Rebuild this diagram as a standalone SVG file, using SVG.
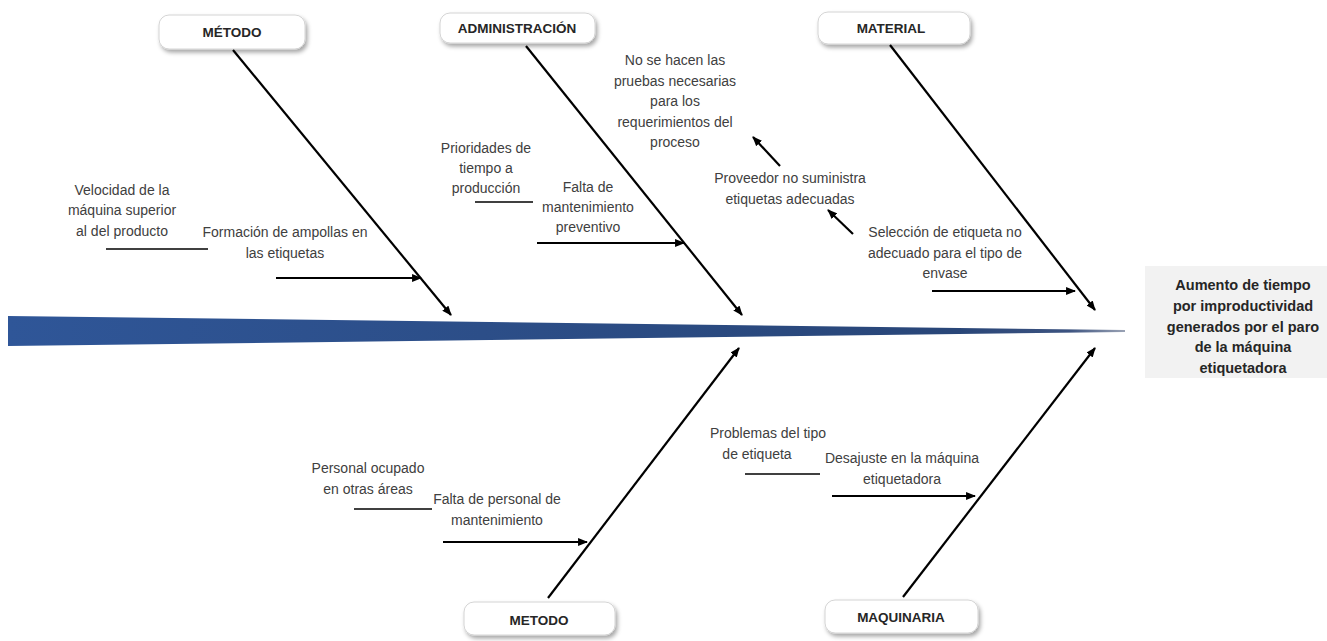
<svg xmlns="http://www.w3.org/2000/svg" width="1327" height="641" viewBox="0 0 1327 641">
  <style>
    .lbl { font-family: "Liberation Sans", Arial, sans-serif; font-size: 14px; fill: #404040; text-anchor: middle; }
    .cat { font-family: "Liberation Sans", Arial, sans-serif; font-size: 13.5px; font-weight: bold; fill: #262626; text-anchor: middle; }
    .eff { font-family: "Liberation Sans", Arial, sans-serif; font-size: 14.5px; font-weight: bold; fill: #262626; text-anchor: middle; }
    .box { fill: #ffffff; stroke: #d4d4d4; stroke-width: 1; filter: url(#shadow); }
    .bone { stroke: #000; stroke-width: 2.2; fill: none; marker-end: url(#arrow); }
    .sub { stroke: #000; stroke-width: 2.2; fill: none; marker-end: url(#arrow); }
    .plain { stroke: #000; stroke-width: 1.4; fill: none; }
  </style>
  <defs>
    <linearGradient id="spineGrad" x1="0" y1="0" x2="1" y2="0">
      <stop offset="0" stop-color="#2f5698"/>
      <stop offset="0.85" stop-color="#294678"/>
      <stop offset="0.95" stop-color="#3c5380"/>
      <stop offset="1" stop-color="#9aa2b4"/>
    </linearGradient>
    <filter id="shadow" x="-10%" y="-20%" width="125%" height="160%">
      <feDropShadow dx="2" dy="3" stdDeviation="2" flood-color="#000" flood-opacity="0.35"/>
    </filter>
    <marker id="arrow" viewBox="0 0 10 8" refX="9" refY="4" markerWidth="4.5" markerHeight="3.6" orient="auto" markerUnits="strokeWidth">
      <path d="M0,0 L10,4 L0,8 z" fill="#000"/>
    </marker>
  </defs>

  <!-- spine -->
  <polygon points="8,316 1125,330 1125,332 8,346" fill="url(#spineGrad)"/>

  <!-- effect -->
  <g id="effect">
    <rect x="1145" y="266" width="182" height="112" fill="#f2f2f2"/>
    <text class="eff" x="1243" y="290">Aumento de tiempo</text>
    <text class="eff" x="1243" y="311">por improductividad</text>
    <text class="eff" x="1243" y="332">generados por el paro</text>
    <text class="eff" x="1243" y="352">de la máquina</text>
    <text class="eff" x="1243" y="373">etiquetadora</text>
  </g>

  <!-- category boxes -->
  <g id="cat-metodo-top">
    <rect class="box" x="159" y="15" width="146" height="34" rx="10"/>
    <text class="cat" x="232" y="37">MÉTODO</text>
  </g>
  <g id="cat-administracion">
    <rect class="box" x="440" y="13" width="155" height="30" rx="10"/>
    <text class="cat" x="517" y="33">ADMINISTRACIÓN</text>
  </g>
  <g id="cat-material">
    <rect class="box" x="818" y="12" width="152" height="32" rx="10"/>
    <text class="cat" x="891" y="33">MATERIAL</text>
  </g>
  <g id="cat-metodo-bottom">
    <rect class="box" x="464" y="602" width="151" height="33" rx="10"/>
    <text class="cat" x="539" y="625">METODO</text>
  </g>
  <g id="cat-maquinaria">
    <rect class="box" x="825" y="600" width="153" height="33" rx="10"/>
    <text class="cat" x="901" y="622">MAQUINARIA</text>
  </g>

  <!-- connectors -->
  <g id="connectors">
    <line class="bone" x1="233" y1="50" x2="451" y2="315"/>
    <line class="bone" x1="526" y1="46" x2="742" y2="315"/>
    <line class="bone" x1="890" y1="45" x2="1095" y2="310"/>
    <line class="bone" x1="548" y1="598" x2="739" y2="348"/>
    <line class="bone" x1="903" y1="597" x2="1095" y2="348"/>

    <line class="sub" x1="276" y1="278" x2="421" y2="278"/>
    <line class="plain" x1="106" y1="249" x2="208" y2="249"/>

    <line class="sub" x1="537" y1="243" x2="684" y2="243"/>
    <line class="plain" x1="475" y1="202" x2="533" y2="202"/>

    <line class="sub" x1="780" y1="166" x2="753" y2="137"/>
    <line class="sub" x1="853" y1="234" x2="828" y2="210"/>
    <line class="sub" x1="932" y1="291" x2="1075" y2="291"/>

    <line class="sub" x1="443" y1="542" x2="587" y2="542"/>
    <line class="plain" x1="354" y1="509" x2="432" y2="509"/>

    <line class="sub" x1="832" y1="496" x2="975" y2="496"/>
    <line class="plain" x1="745" y1="474" x2="820" y2="474"/>
  </g>

  <!-- cause labels -->
  <g id="causes">
    <text class="lbl" x="122" y="195">Velocidad de la</text>
    <text class="lbl" x="122" y="215">máquina superior</text>
    <text class="lbl" x="122" y="236">al del producto</text>

    <text class="lbl" x="285" y="237">Formación de ampollas en</text>
    <text class="lbl" x="285" y="258">las etiquetas</text>

    <text class="lbl" x="486" y="153">Prioridades de</text>
    <text class="lbl" x="486" y="173">tiempo a</text>
    <text class="lbl" x="486" y="193">producción</text>

    <text class="lbl" x="588" y="192">Falta de</text>
    <text class="lbl" x="588" y="212">mantenimiento</text>
    <text class="lbl" x="588" y="232">preventivo</text>

    <text class="lbl" x="675" y="65">No se hacen las</text>
    <text class="lbl" x="675" y="86">pruebas necesarias</text>
    <text class="lbl" x="675" y="106">para los</text>
    <text class="lbl" x="675" y="127">requerimientos del</text>
    <text class="lbl" x="675" y="147">proceso</text>

    <text class="lbl" x="790" y="183">Proveedor no suministra</text>
    <text class="lbl" x="790" y="204">etiquetas adecuadas</text>

    <text class="lbl" x="945" y="237">Selección de etiqueta no</text>
    <text class="lbl" x="945" y="258">adecuado para el tipo de</text>
    <text class="lbl" x="945" y="278">envase</text>

    <text class="lbl" x="368" y="473">Personal ocupado</text>
    <text class="lbl" x="368" y="494">en otras áreas</text>

    <text class="lbl" x="497" y="504">Falta de personal de</text>
    <text class="lbl" x="497" y="525">mantenimiento</text>

    <text class="lbl" x="768" y="438">Problemas del tipo</text>
    <text class="lbl" x="757" y="459">de etiqueta</text>

    <text class="lbl" x="902" y="463">Desajuste en la máquina</text>
    <text class="lbl" x="902" y="484">etiquetadora</text>
  </g>
</svg>
